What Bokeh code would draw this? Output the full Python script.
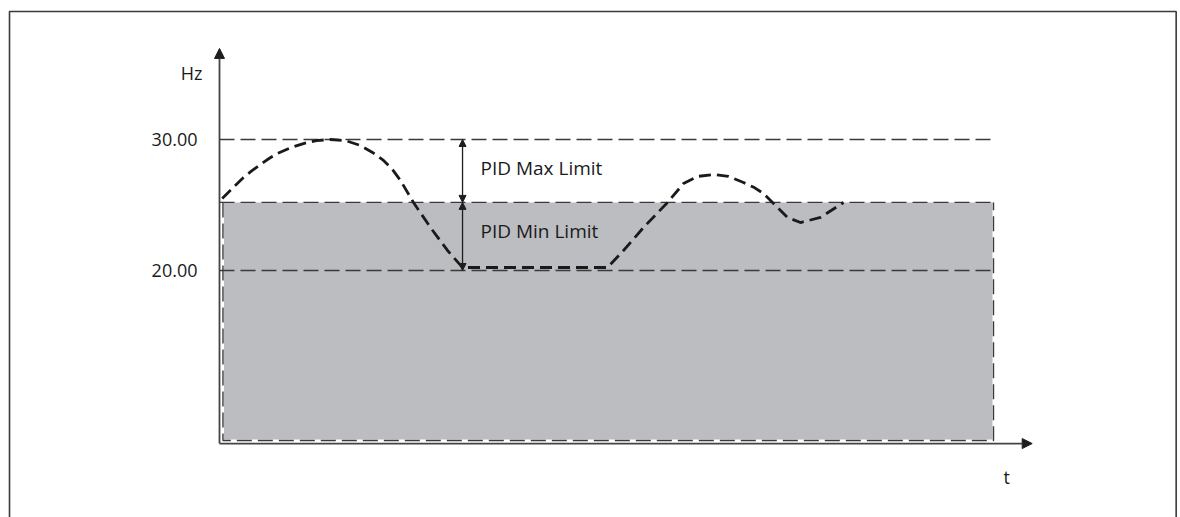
from bokeh.plotting import figure
from bokeh.models import Range1d, Arrow, NormalHead
from bokeh.core.properties import value
from bokeh.embed import file_html
from bokeh.resources import INLINE

# ---- data ----
HZ_MAX = 30.0          # upper reference
HZ_MIN = 20.0          # lower reference
LIMIT_LEVEL = 25.2     # PID limit level (top of shaded band)
TICK_VALUES = [30.0, 20.0]
TICK_LABELS = ["30.00", "20.00"]

T_CURVE = [0.35, 1.80, 3.10, 4.20, 5.30, 6.40, 7.49, 9.20, 10.85, 12.53, 14.34,
           16.28, 18.22, 19.77, 21.19, 22.35, 23.39, 25.06, 27.26, 29.46, 31.40,
           50.13, 52.20, 54.78, 57.88, 59.95, 61.76, 63.82, 65.76, 67.70, 69.10,
           70.28, 71.45, 73.39, 75.06, 77.65, 80.62]
HZ_CURVE = [25.50, 26.35, 27.10, 27.62, 28.09, 28.55, 28.93, 29.38, 29.69, 29.92, 30.00,
            29.92, 29.54, 29.01, 28.40, 27.71, 26.87, 25.19, 23.28, 21.53, 20.23,
            20.23, 21.53, 23.28, 25.19, 26.64, 27.18, 27.33, 27.18, 26.72, 26.33,
            25.88, 25.19, 24.05, 23.66, 24.05, 25.19]

# ---- layout constants ----
W, H = 1180, 517
PX_T, PX_HZ = 7.74, 13.1          # pixels per unit
ORIGIN_X, REF_Y = 219, 139        # canvas px of t=0 and of Hz=30
T_END = 100.0                     # right end of band / reference lines
T_AXIS_END = 105.0
HZ_AXIS_TOP = 36.95
HZ_AXIS = 6.79
BAND_LEFT = 0.45
BAND_BOTTOM = 7.02
ARROW_T = 31.4

x0 = -ORIGIN_X / PX_T
x1 = (W - ORIGIN_X) / PX_T
y1 = HZ_MAX + REF_Y / PX_HZ
y0 = HZ_MAX - (H - REF_Y) / PX_HZ

p = figure(width=W, height=H, x_range=Range1d(x0, x1), y_range=Range1d(y0, y1),
           output_backend="svg", toolbar_location=None,
           x_axis_location=None, y_axis_location=None, min_border=0)
p.grid.visible = False
p.outline_line_color = None
p.background_fill_color = "white"
p.border_fill_color = "white"

dark = "#1e1e1e"

# outer frame
FRAME_L, FRAME_R, FRAME_T, FRAME_B = -27.13, 123.6, 39.77, -2.0
p.line([FRAME_L, FRAME_L, FRAME_R, FRAME_R], [FRAME_B, FRAME_T, FRAME_T, FRAME_B],
       line_color="#3a3a3a", line_width=1.6)

# shaded band
p.quad(left=[BAND_LEFT], right=[T_END], bottom=[BAND_BOTTOM], top=[LIMIT_LEVEL],
       fill_color="#bcbdc1", line_color=None)
p.line([BAND_LEFT, BAND_LEFT, T_END, T_END], [LIMIT_LEVEL, BAND_BOTTOM, BAND_BOTTOM, LIMIT_LEVEL],
       line_color="white", line_width=2)
p.line([BAND_LEFT, BAND_LEFT, T_END, T_END], [LIMIT_LEVEL, BAND_BOTTOM, BAND_BOTTOM, LIMIT_LEVEL],
       line_color="#3a3a3a", line_width=1.4, line_dash="15 6")

# reference dashed lines
for lvl in [HZ_MAX, LIMIT_LEVEL, HZ_MIN]:
    p.line([0, T_END], [lvl, lvl], line_color="#3a3a3a", line_width=1.3, line_dash="15 6")

# axes
def head(size):
    return NormalHead(size=size, fill_color=dark, line_color=dark, line_width=1)

p.add_layout(Arrow(x_start=0, y_start=HZ_AXIS, x_end=0, y_end=HZ_AXIS_TOP,
                   line_color="#444444", line_width=1.8, end=head(10)))
p.add_layout(Arrow(x_start=0, y_start=HZ_AXIS, x_end=T_AXIS_END, y_end=HZ_AXIS,
                   line_color="#444444", line_width=1.8, end=head(10)))

# frequency curve
p.line(T_CURVE, HZ_CURVE, line_color="#1a1a1a", line_width=2.8, line_dash="12 6")

# PID limit arrows
for a, b in [(HZ_MAX, LIMIT_LEVEL), (LIMIT_LEVEL, HZ_MIN)]:
    p.add_layout(Arrow(x_start=ARROW_T, y_start=a, x_end=ARROW_T, y_end=b,
                       line_color=dark, line_width=1.3, start=head(7), end=head(7)))

font = value("Open Sans")
tc = "#1a1a1a"
# tick labels
p.text(x=[-2.84] * len(TICK_VALUES), y=TICK_VALUES, text=TICK_LABELS,
       text_align="right", text_baseline="middle", text_font=font,
       text_font_size="18px", text_color=tc)
# axis names
p.text(x=[-2.2], y=[35.11], text=["Hz"], text_align="right", text_baseline="middle",
       text_font=font, text_font_size="18px", text_color=tc)
p.text(x=[101.7], y=[4.2], text=["t"], text_align="center", text_baseline="middle",
       text_font=font, text_font_size="18px", text_color=tc)
# limit labels
p.text(x=[33.72, 33.72], y=[27.86, 23.05], text=["PID Max Limit", "PID Min Limit"],
       text_align="left", text_baseline="middle", text_font=font,
       text_font_size="19px", text_color=tc)

open("out.html", "w").write(file_html(p, INLINE))
